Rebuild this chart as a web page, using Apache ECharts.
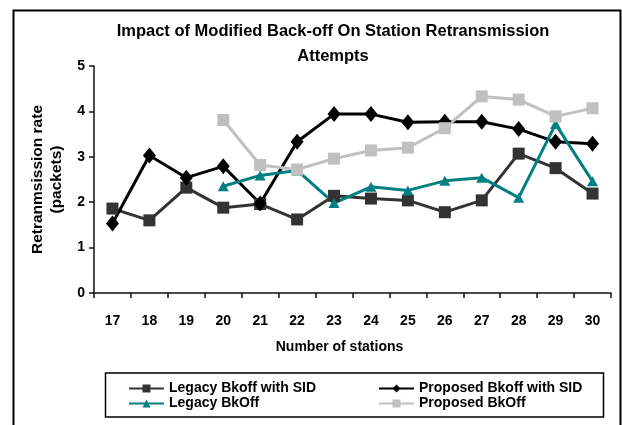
<!DOCTYPE html>
<html>
<head>
<meta charset="utf-8">
<script src="https://cdn.jsdelivr.net/npm/echarts@6/dist/echarts.min.js"></script>
<style>
  html, body { margin: 0; padding: 0; background: #fff; }
  #chart { width: 622px; height: 425px; }
</style>
</head>
<body>
<div id="chart"></div>
<script>
// Number of stations on the x axis
const stations = ['17', '18', '19', '20', '21', '22', '23', '24', '25', '26', '27', '28', '29', '30'];

// Retransmission rate (packets) per scheme
const legacySid   = [1.86, 1.60, 2.32, 1.88, 1.96, 1.62, 2.14, 2.08, 2.04, 1.78, 2.04, 3.07, 2.75, 2.19];
const proposedSid = [1.53, 3.03, 2.54, 2.79, 1.97, 3.33, 3.94, 3.94, 3.76, 3.77, 3.77, 3.61, 3.33, 3.29];
const legacyBk    = [null, null, null, 2.35, 2.59, 2.70, 1.98, 2.34, 2.26, 2.47, 2.54, 2.10, 3.72, 2.46];
const proposedBk  = [null, null, null, 3.81, 2.82, 2.72, 2.96, 3.14, 3.20, 3.63, 4.33, 4.26, 3.89, 4.07];

const yTicks = [0, 1, 2, 3, 4, 5];

const FONT = '"Liberation Sans Narrow", "Arial Narrow", "Liberation Sans", Arial, sans-serif';
const FONT_WIDE = '"Liberation Sans", Arial, sans-serif';

const chart = echarts.init(document.getElementById('chart'), null, { renderer: 'canvas' });

function lineSeries(name, data, color, symbol, size) {
  return {
    name: name,
    type: 'line',
    data: data,
    color: color,
    symbol: symbol,
    symbolSize: size,
    showAllSymbol: true,
    connectNulls: false,
    lineStyle: { color: color, width: 3 },
    itemStyle: { color: color, borderWidth: 0 },
    emphasis: { disabled: true },
    animation: false
  };
}

const legendText = { fontFamily: FONT, fontWeight: 'bold', fontSize: 14, lineHeight: 15, color: '#000' };

chart.setOption({
  animation: false,
  title: {
    text: 'Impact of Modified Back-off On Station Retransmission\nAttempts',
    left: 333,
    top: 18.5,
    padding: 0,
    textAlign: 'center',
    textStyle: {
      fontFamily: FONT,
      fontWeight: 'bold',
      fontSize: 16.5,
      lineHeight: 25.5,
      color: '#000'
    }
  },
  grid: { left: 94, right: 11, top: 66, bottom: 132, containLabel: false },
  legend: [
    {
      data: ['Legacy Bkoff with SID', 'Legacy BkOff'],
      orient: 'vertical',
      left: 128,
      top: 381,
      padding: 0,
      itemGap: 0,
      itemWidth: 35,
      itemHeight: 10,
      textStyle: legendText,
      selectedMode: false
    },
    {
      data: ['Proposed Bkoff with SID', 'Proposed BkOff'],
      orient: 'vertical',
      left: 378,
      top: 381,
      padding: 0,
      itemGap: 0,
      itemWidth: 35,
      itemHeight: 10,
      textStyle: legendText,
      selectedMode: false
    }
  ],
  xAxis: {
    type: 'category',
    data: stations,
    boundaryGap: true,
    name: 'Number of stations',
    nameLocation: 'middle',
    nameGap: 47,
    nameTextStyle: {
      fontFamily: FONT, fontWeight: 'bold', fontSize: 14, color: '#000',
      padding: [0, 26, 0, 0]
    },
    axisLine: { lineStyle: { color: '#111', width: 1.5 } },
    axisTick: { show: true, alignWithLabel: false, length: 5, lineStyle: { color: '#111', width: 1.5 } },
    axisLabel: { fontFamily: FONT, fontWeight: 'bold', fontSize: 14, color: '#000', margin: 21 },
    splitLine: { show: false }
  },
  yAxis: {
    type: 'value',
    min: yTicks[0],
    max: yTicks[yTicks.length - 1],
    interval: 1,
    name: 'Retranmsission rate\n(packets)',
    nameLocation: 'middle',
    nameRotate: 90,
    nameGap: 22,
    nameTextStyle: {
      fontFamily: FONT_WIDE, fontWeight: 'bold', fontSize: 15.5, lineHeight: 19, color: '#000', align: 'center'
    },
    axisLine: { show: true, lineStyle: { color: '#111', width: 1.5 } },
    axisTick: { show: true, length: 5, lineStyle: { color: '#111', width: 1.5 } },
    axisLabel: { fontFamily: FONT, fontWeight: 'bold', fontSize: 14, color: '#000', margin: 9 },
    splitLine: { show: false }
  },
  graphic: [
    {
      type: 'rect',
      shape: { x: 13.5, y: 10.5, width: 607, height: 430 },
      style: { fill: null, stroke: '#000', lineWidth: 2 },
      silent: true,
      z: -1
    },
    {
      type: 'rect',
      shape: { x: 105.5, y: 373, width: 498, height: 44 },
      style: { fill: null, stroke: '#000', lineWidth: 1.5 },
      silent: true
    }
  ],
  series: [
    lineSeries('Legacy Bkoff with SID', legacySid, '#333333', 'rect', 12),
    lineSeries('Proposed Bkoff with SID', proposedSid, '#000000', 'diamond', [13, 16]),
    lineSeries('Legacy BkOff', legacyBk, '#008080', 'triangle', [11, 10]),
    lineSeries('Proposed BkOff', proposedBk, '#c0c0c0', 'rect', 12)
  ]
});
</script>
</body>
</html>
